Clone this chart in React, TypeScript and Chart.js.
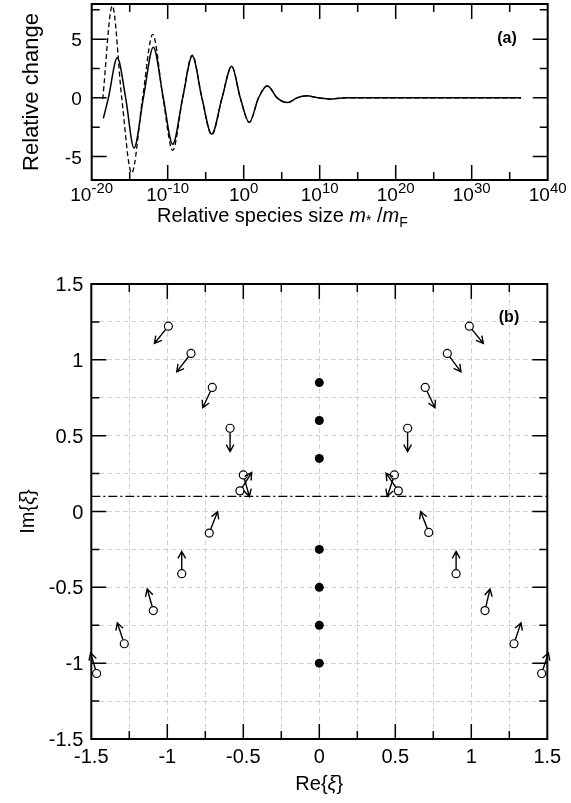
import React, { useEffect, useRef } from "react";
import { Chart, registerables } from "chart.js";

Chart.register(...registerables);

const FONT = '"Liberation Sans", Arial, Helvetica, sans-serif';
const PAGE_W = 571;
const TOP_H = 250;
const BOTTOM_TOP = 250;
const BOTTOM_H = 553;

// ---------- Panel (a): x values are log10(m* / mF) ----------
const solidLogSize = [
  -18.47, -17.8, -16.63, -15.53, -14.43, -13.2, -11.89, -10.58, -9.34, -8.03,
  -6.76, -5.5, -4.21, -2.85, -1.58, -0.45, 0.74, 1.95, 3.11, 4.4, 5.79, 7.0,
  8.29, 9.8, 11.13, 13.5, 16.0, 36.5,
];
const solidChange = [
  -1.75, 0, 3.41, 0, -4.27, 0, 4.32, 0, -3.95, 0, 3.56, 0, -3.09, 0, 2.69, 0,
  -2.09, 0, 1.03, 0, -0.4, 0, 0.17, 0, -0.09, 0, 0, 0,
];
const dashedLogSize = [
  -18.55, -17.29, -16.05, -14.74, -13.3, -11.97, -10.62, -9.34, -8.03, -6.76,
  -5.5, -4.21, -2.85, -1.58, -0.45, 0.74, 1.95, 3.11, 4.4, 5.79, 7.0, 8.29, 9.8,
  11.13, 13.5, 16.0, 36.5,
];
const dashedChange = [
  -0.1, 7.84, 0, -6.41, 0, 5.41, 0, -4.47, 0, 3.65, 0, -3.15, 0, 2.69, 0, -2.09,
  0, 1.03, 0, -0.4, 0, 0.17, 0, -0.09, 0, 0, 0,
];
const aXTickExponents = [-20, -10, 0, 10, 20, 30, 40];
const aXTickMarks = [-15, -10, -5, 0, 5, 10, 15, 20, 25, 30, 35];
const aYTickLabels = [-5, 0, 5];
const aYTickMarks = [-5, -2.5, 0, 2.5, 5, 7.5];

// ---------- Panel (b) ----------
const dotRe = [0, 0, 0, 0, 0, 0, 0];
const dotIm = [0.85, 0.6, 0.35, -0.25, -0.5, -0.75, -1.0];
const openRe = [
  -0.993, -0.844, -0.704, -0.587, -0.5, -0.522, -0.724, -0.905, -1.092, -1.283, -1.465,
  0.987, 0.842, 0.697, 0.581, 0.494, 0.52, 0.72, 0.9, 1.09, 1.281, 1.463,
];
const openIm = [
  1.222, 1.042, 0.818, 0.549, 0.241, 0.136, -0.142, -0.41, -0.653, -0.872, -1.068,
  1.222, 1.042, 0.818, 0.549, 0.241, 0.136, -0.138, -0.41, -0.653, -0.872, -1.068,
];
const tipRe = [
  -1.085, -0.938, -0.767, -0.587, -0.46, -0.445, -0.669, -0.905, -1.132, -1.329, -1.504,
  1.079, 0.932, 0.761, 0.581, 0.447, 0.439, 0.667, 0.9, 1.123, 1.327, 1.507,
];
const tipIm = [
  1.108, 0.921, 0.684, 0.395, 0.099, 0.257, 0.0, -0.263, -0.511, -0.734, -0.932,
  1.108, 0.921, 0.684, 0.395, 0.099, 0.253, 0.0, -0.263, -0.511, -0.734, -0.932,
];
const thresholdIm = 0.1;
const bTickLabels = [-1.5, -1, -0.5, 0, 0.5, 1, 1.5];
const bTickMarks = [-1.25, -1, -0.75, -0.5, -0.25, 0, 0.25, 0.5, 0.75, 1, 1.25];

type Part = { t: string; font: string; dy?: number };

function drawParts(ctx: CanvasRenderingContext2D, parts: Part[], x: number, y: number, align: string) {
  let total = 0;
  const widths = parts.map((p) => {
    ctx.font = p.font;
    const w = ctx.measureText(p.t).width;
    total += w;
    return w;
  });
  let cx = align === "center" ? x - total / 2 : align === "right" ? x - total : x;
  ctx.textAlign = "left";
  ctx.textBaseline = "alphabetic";
  parts.forEach((p, i) => {
    ctx.font = p.font;
    ctx.fillText(p.t, cx, y + (p.dy || 0));
    cx += widths[i];
  });
}

function drawRotated(ctx: CanvasRenderingContext2D, parts: Part[], cx: number, cy: number, capHalf: number) {
  ctx.save();
  ctx.translate(cx, cy);
  ctx.rotate(-Math.PI / 2);
  drawParts(ctx, parts, 0, capHalf, "center");
  ctx.restore();
}

function drawFrame(
  chart: any,
  xMarks: number[],
  yMarks: number[],
  isMajorX: (v: number) => boolean,
  isMajorY: (v: number) => boolean
) {
  const ctx: CanvasRenderingContext2D = chart.ctx;
  const { left, right, top, bottom } = chart.chartArea;
  const xs = chart.scales.x;
  const ys = chart.scales.y;
  ctx.save();
  ctx.strokeStyle = "#000";
  ctx.lineWidth = 1.5;
  ctx.setLineDash([]);
  ctx.beginPath();
  xMarks.forEach((v) => {
    const px = xs.getPixelForValue(v);
    const len = isMajorX(v) ? 15 : 8;
    ctx.moveTo(px, bottom);
    ctx.lineTo(px, bottom - len);
    ctx.moveTo(px, top);
    ctx.lineTo(px, top + len);
  });
  yMarks.forEach((v) => {
    const py = ys.getPixelForValue(v);
    const len = isMajorY(v) ? 15 : 8;
    ctx.moveTo(left, py);
    ctx.lineTo(left + len, py);
    ctx.moveTo(right, py);
    ctx.lineTo(right - len, py);
  });
  ctx.stroke();
  ctx.lineWidth = 2;
  ctx.strokeRect(left, top, right - left, bottom - top);
  ctx.restore();
}

const near = (a: number, b: number) => Math.abs(a - b) < 1e-9;

const panelAPlugin = {
  id: "panelA",
  afterDraw(chart: any) {
    const ctx: CanvasRenderingContext2D = chart.ctx;
    const { left, right, top, bottom } = chart.chartArea;
    const xs = chart.scales.x;
    const ys = chart.scales.y;
    drawFrame(
      chart,
      aXTickMarks,
      aYTickMarks,
      (v) => near(v % 10, 0),
      (v) => near(v % 5, 0)
    );
    ctx.save();
    ctx.fillStyle = "#000";
    const tf = `19px ${FONT}`;
    aYTickLabels.forEach((v) => {
      drawParts(ctx, [{ t: String(v), font: tf }], left - 10, ys.getPixelForValue(v) + 7, "right");
    });
    aXTickExponents.forEach((e) => {
      drawParts(
        ctx,
        [
          { t: "10", font: `19px ${FONT}` },
          { t: String(e), font: `15px ${FONT}`, dy: -8 },
        ],
        xs.getPixelForValue(e),
        bottom + 21,
        "center"
      );
    });
    const tt = `20px ${FONT}`;
    const ti = `italic 20px ${FONT}`;
    const ts = `14px ${FONT}`;
    drawParts(
      ctx,
      [
        { t: "Relative species size ", font: tt },
        { t: "m", font: ti },
        { t: "*", font: ts, dy: 3 },
        { t: " /", font: tt },
        { t: "m", font: ti },
        { t: "F", font: ts, dy: 5 },
      ],
      157,
      bottom + 42,
      "left"
    );
    drawRotated(ctx, [{ t: "Relative change", font: `22px ${FONT}` }], 30, (top + bottom) / 2, 8);
    drawParts(ctx, [{ t: "(a)", font: `bold 16px ${FONT}` }], 507, 43, "center");
    ctx.restore();
  },
};

const panelBPlugin = {
  id: "panelB",
  afterDatasetsDraw(chart: any) {
    const ctx: CanvasRenderingContext2D = chart.ctx;
    const xs = chart.scales.x;
    const ys = chart.scales.y;
    ctx.save();
    ctx.strokeStyle = "#000";
    ctx.lineWidth = 1.4;
    ctx.setLineDash([]);
    const r = 4.2;
    const L = 8;
    const a = 0.5;
    openRe.forEach((re, i) => {
      const x0 = xs.getPixelForValue(re);
      const y0 = ys.getPixelForValue(openIm[i]);
      const x1 = xs.getPixelForValue(tipRe[i]);
      const y1 = ys.getPixelForValue(tipIm[i]);
      const ang = Math.atan2(y1 - y0, x1 - x0);
      ctx.beginPath();
      ctx.moveTo(x0 + r * Math.cos(ang), y0 + r * Math.sin(ang));
      ctx.lineTo(x1, y1);
      ctx.moveTo(x1 - L * Math.cos(ang - a), y1 - L * Math.sin(ang - a));
      ctx.lineTo(x1, y1);
      ctx.lineTo(x1 - L * Math.cos(ang + a), y1 - L * Math.sin(ang + a));
      ctx.stroke();
    });
    ctx.restore();
  },
  afterDraw(chart: any) {
    const ctx: CanvasRenderingContext2D = chart.ctx;
    const { left, right, top, bottom } = chart.chartArea;
    const xs = chart.scales.x;
    const ys = chart.scales.y;
    drawFrame(
      chart,
      bTickMarks,
      bTickMarks,
      (v) => near(Math.abs(v * 2) % 1, 0),
      (v) => near(Math.abs(v * 2) % 1, 0)
    );
    ctx.save();
    ctx.fillStyle = "#000";
    const tf = `20px ${FONT}`;
    bTickLabels.forEach((v) => {
      drawParts(ctx, [{ t: String(v), font: tf }], left - 8, ys.getPixelForValue(v) + 7, "right");
      drawParts(ctx, [{ t: String(v), font: tf }], xs.getPixelForValue(v), bottom + 24, "center");
    });
    const f = `20px ${FONT}`;
    const fi = `italic 20px ${FONT}`;
    drawParts(
      ctx,
      [
        { t: "Re{", font: f },
        { t: "ξ", font: fi },
        { t: "}", font: f },
      ],
      (left + right) / 2,
      bottom + 51,
      "center"
    );
    drawRotated(
      ctx,
      [
        { t: "Im{", font: f },
        { t: "ξ", font: fi },
        { t: "}", font: f },
      ],
      27,
      (top + bottom) / 2,
      7
    );
    drawParts(ctx, [{ t: "(b)", font: `bold 16px ${FONT}` }], 509, 322 - BOTTOM_TOP, "center");
    ctx.restore();
  },
};

export default function App() {
  const topRef = useRef<HTMLCanvasElement | null>(null);
  const botRef = useRef<HTMLCanvasElement | null>(null);

  useEffect(() => {
    const c1 = new Chart(topRef.current as HTMLCanvasElement, {
      type: "scatter",
      data: {
        datasets: [
          {
            data: solidLogSize.map((x, i) => ({ x, y: solidChange[i] })),
            showLine: true,
            borderColor: "#000",
            borderWidth: 1.5,
            pointRadius: 0,
            cubicInterpolationMode: "monotone",
            fill: false,
          },
          {
            data: dashedLogSize.map((x, i) => ({ x, y: dashedChange[i] })),
            showLine: true,
            borderColor: "#000",
            borderWidth: 1.3,
            borderDash: [5, 3],
            pointRadius: 0,
            cubicInterpolationMode: "monotone",
            fill: false,
          },
        ],
      } as any,
      options: {
        responsive: false,
        maintainAspectRatio: false,
        animation: false,
        devicePixelRatio: 1,
        events: [],
        layout: { padding: { left: 91.7, right: PAGE_W - 547.7, top: 4, bottom: TOP_H - 180 } },
        scales: {
          x: { type: "linear", min: -20, max: 40, display: false },
          y: { type: "linear", min: -7, max: 8, display: false },
        },
        plugins: { legend: { display: false }, tooltip: { enabled: false } },
      } as any,
      plugins: [panelAPlugin],
    });

    const gridCommon = {
      color: "#d2d2d2",
      lineWidth: 1,
      drawTicks: false,
      drawOnChartArea: true,
    };
    const c2 = new Chart(botRef.current as HTMLCanvasElement, {
      type: "scatter",
      data: {
        datasets: [
          {
            data: openRe.map((x, i) => ({ x, y: openIm[i] })),
            pointRadius: 4,
            pointBorderWidth: 1.2,
            pointBorderColor: "#000",
            pointBackgroundColor: "#fff",
            showLine: false,
          },
          {
            data: dotRe.map((x, i) => ({ x, y: dotIm[i] })),
            pointRadius: 4.5,
            pointBorderWidth: 0,
            pointBackgroundColor: "#000",
            pointBorderColor: "#000",
            showLine: false,
          },
          {
            data: [
              { x: -1.5, y: thresholdIm },
              { x: 1.5, y: thresholdIm },
            ],
            showLine: true,
            borderColor: "#000",
            borderWidth: 1.2,
            borderDash: [9, 3, 2, 3],
            pointRadius: 0,
          },
        ],
      } as any,
      options: {
        responsive: false,
        maintainAspectRatio: false,
        animation: false,
        devicePixelRatio: 1,
        events: [],
        layout: {
          padding: { left: 91.3, right: PAGE_W - 547.3, top: 284 - BOTTOM_TOP, bottom: BOTTOM_H - (739 - BOTTOM_TOP) },
        },
        scales: {
          x: {
            type: "linear",
            min: -1.5,
            max: 1.5,
            display: true,
            ticks: { display: false, stepSize: 0.25 },
            grid: gridCommon,
            border: { display: false, dash: [5, 3] },
          },
          y: {
            type: "linear",
            min: -1.5,
            max: 1.5,
            display: true,
            ticks: { display: false, stepSize: 0.25 },
            grid: gridCommon,
            border: { display: false, dash: [5, 3] },
          },
        },
        plugins: { legend: { display: false }, tooltip: { enabled: false } },
      } as any,
      plugins: [panelBPlugin],
    });

    return () => {
      c1.destroy();
      c2.destroy();
    };
  }, []);

  return (
    <div style={{ position: "absolute", left: 0, top: 0, width: PAGE_W, height: 803, background: "#fff" }}>
      <canvas
        ref={topRef}
        width={PAGE_W}
        height={TOP_H}
        style={{ position: "absolute", left: 0, top: 0, width: PAGE_W, height: TOP_H }}
      />
      <canvas
        ref={botRef}
        width={PAGE_W}
        height={BOTTOM_H}
        style={{ position: "absolute", left: 0, top: BOTTOM_TOP, width: PAGE_W, height: BOTTOM_H }}
      />
    </div>
  );
}
